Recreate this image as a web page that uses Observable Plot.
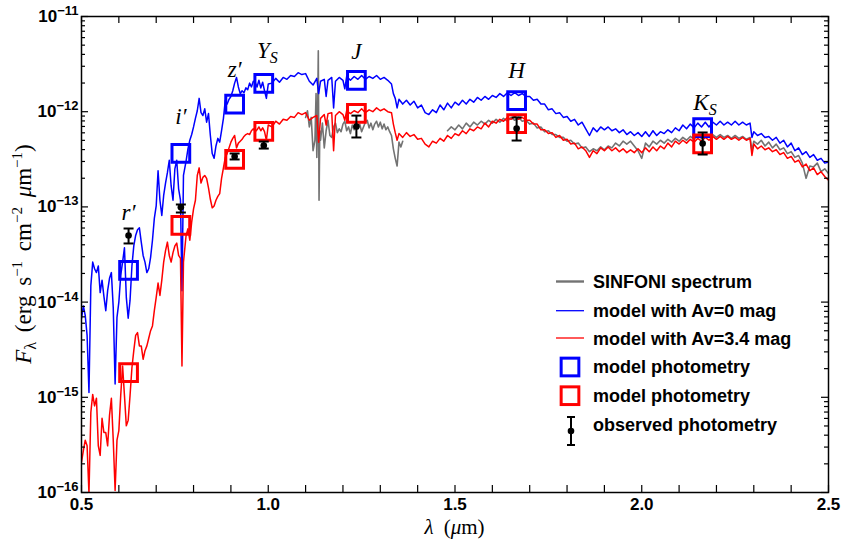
<!DOCTYPE html>
<html><head><meta charset="utf-8">
<script src="https://cdn.jsdelivr.net/npm/d3@7"></script>
<script src="https://cdn.jsdelivr.net/npm/@observablehq/plot@0.6"></script>
<style>body{margin:0;background:#fff}#chart{width:841px;height:541px}</style>
</head><body><div id="chart"></div>
<script>
// ---------- DATA ----------
// wavelength grid of the two model spectra (micron)
const waveModel = [
0.500,0.505,0.510,0.515,0.520,0.525,0.530,0.535,0.540,0.545,
0.550,0.555,0.560,0.565,0.570,0.575,0.580,0.585,0.590,0.595,
0.600,0.605,0.610,0.615,0.620,0.625,0.630,0.635,0.640,0.645,
0.650,0.655,0.660,0.665,0.670,0.675,0.680,0.685,0.690,0.695,
0.700,0.705,0.710,0.715,0.720,0.725,0.730,0.735,0.740,0.745,
0.750,0.755,0.760,0.765,0.769,0.773,
0.780,0.785,0.790,0.795,0.800,0.805,0.810,0.815,0.820,0.825,
0.830,0.835,0.840,0.845,0.850,0.855,0.860,0.865,0.870,0.875,
0.880,0.885,0.890,0.895,0.900,0.905,0.910,0.915,0.920,0.925,
0.930,0.935,0.940,0.945,0.950,0.955,0.960,0.965,0.970,0.975,
0.980,0.985,0.990,0.995,1.000,
1.01,1.02,1.03,1.04,1.05,1.06,1.07,1.08,1.09,1.10,
1.11,1.12,1.13,1.135,1.14,1.15,1.155,1.16,1.17,1.175,1.18,1.19,1.20,
1.205,1.21,1.22,1.23,1.24,1.25,1.26,1.27,1.28,1.29,1.30,
1.31,1.32,1.33,1.335,1.34,1.345,1.35,1.36,1.37,1.38,1.39,1.40,
1.41,1.42,1.43,1.44,1.45,1.46,1.47,1.48,1.49,1.50,
1.51,1.52,1.53,1.54,1.55,1.56,1.57,1.58,1.59,1.60,
1.61,1.62,1.63,1.64,1.65,1.66,1.67,1.68,1.69,1.70,
1.71,1.72,1.73,1.74,1.75,1.76,1.77,1.78,1.79,1.80,
1.81,1.82,1.83,1.84,1.85,1.86,1.87,1.88,1.89,1.90,
1.91,1.92,1.93,1.94,1.95,1.96,1.97,1.98,1.99,2.00,
2.01,2.02,2.03,2.04,2.05,2.06,2.07,2.08,2.09,2.10,
2.11,2.12,2.13,2.14,2.15,2.16,2.17,2.18,2.19,2.20,
2.21,2.22,2.23,2.24,2.25,2.26,2.27,2.28,2.29,
2.295,
2.30,2.31,2.32,2.33,2.34,2.35,2.36,2.37,2.38,2.39,2.40,
2.41,2.42,2.43,2.44,2.45,2.46,2.47,2.48,2.49,2.50];

// log10 F_lambda (erg s-1 cm-2 um-1), model with Av = 0 mag
const logFluxAv0 = [
-14.17,-14.04,-14.14,-14.35,-14.95,-13.83,-13.58,-13.65,-13.69,-13.62,
-13.90,-13.77,-13.94,-14.09,-13.88,-13.75,-13.69,-14.06,-14.86,-14.16,
-14.00,-13.72,-13.58,-13.43,-13.95,-14.17,-13.98,-13.62,-13.41,-13.30,
-13.24,-13.22,-13.37,-13.51,-13.58,-13.69,-13.65,-13.53,-13.35,-13.12,
-12.99,-12.62,-12.93,-13.09,-12.88,-12.75,-12.64,-12.51,-12.78,-12.93,
-12.60,-12.51,-12.81,-12.93,-13.88,-12.67,
-12.52,-12.39,-12.30,-12.24,-12.16,-12.07,-11.99,-11.86,-12.01,-12.04,
-11.97,-12.11,-12.02,-12.25,-12.44,-12.49,-12.36,-12.28,-12.32,-12.20,
-12.07,-11.88,-11.92,-11.87,-11.84,-11.78,-11.70,-11.64,-11.74,-11.81,
-11.78,-11.80,-11.75,-11.77,-11.70,-11.74,-11.68,-11.69,-11.74,-11.67,
-11.75,-11.69,-11.78,-11.86,-11.71,
-11.70,-11.65,-11.69,-11.64,-11.66,-11.62,-11.63,-11.59,-11.61,-11.60,
-11.68,-11.72,-11.65,-11.81,-11.68,-11.66,-11.84,-11.67,-11.64,-11.96,-11.68,-11.64,-11.67,
-11.76,-11.63,-11.67,-11.63,-11.66,-11.62,-11.66,-11.63,-11.65,-11.62,-11.66,
-11.64,-11.67,-11.71,-11.81,-11.86,-11.96,-11.87,-11.92,-11.88,-11.93,-11.89,-11.96,
-11.93,-12.01,-12.03,-11.98,-12.01,-11.93,-11.98,-11.91,-11.96,-11.90,
-11.93,-11.88,-11.92,-11.87,-11.90,-11.85,-11.88,-11.84,-11.87,-11.83,
-11.85,-11.81,-11.84,-11.80,-11.83,-11.80,-11.83,-11.81,-11.84,-11.84,
-11.88,-11.87,-11.92,-11.92,-11.98,-11.97,-12.02,-12.01,-12.06,-12.05,
-12.10,-12.08,-12.14,-12.11,-12.18,-12.25,-12.17,-12.21,-12.16,-12.19,
-12.16,-12.20,-12.18,-12.22,-12.19,-12.24,-12.21,-12.25,-12.22,-12.26,
-12.21,-12.26,-12.20,-12.25,-12.21,-12.23,-12.19,-12.22,-12.17,-12.20,
-12.14,-12.18,-12.13,-12.17,-12.12,-12.16,-12.11,-12.16,-12.11,-12.14,
-12.10,-12.14,-12.11,-12.14,-12.10,-12.14,-12.11,-12.14,-12.12,
-12.27,
-12.21,-12.25,-12.23,-12.27,-12.26,-12.30,-12.27,-12.33,-12.30,-12.37,-12.33,
-12.41,-12.38,-12.45,-12.42,-12.48,-12.45,-12.51,-12.49,-12.54,-12.53];

// log10 F_lambda, model with Av = 3.4 mag
const logFluxAv34 = [
-15.68,-15.56,-15.45,-15.51,-16.01,-15.16,-14.97,-15.09,-15.01,-15.51,
-15.61,-15.22,-15.37,-15.37,-15.51,-15.19,-15.01,-15.45,-15.98,-15.45,
-15.35,-14.98,-14.67,-14.98,-15.30,-15.24,-14.98,-14.69,-14.51,-14.35,
-14.32,-14.46,-14.46,-14.60,-14.51,-14.46,-14.38,-14.30,-14.25,-14.09,
-13.95,-13.80,-13.93,-13.77,-13.58,-13.46,-13.37,-13.51,-13.58,-13.48,
-13.41,-13.38,-13.51,-13.54,-14.67,-13.58,
-13.30,-13.23,-13.35,-13.16,-13.02,-12.93,-12.67,-12.59,-12.75,-12.69,
-12.67,-12.70,-12.80,-12.92,-13.01,-12.99,-12.93,-12.89,-12.86,-12.70,
-12.59,-12.48,-12.44,-12.38,-12.32,-12.28,-12.25,-12.38,-12.33,-12.31,
-12.29,-12.26,-12.24,-12.23,-12.24,-12.20,-12.18,-12.21,-12.19,-12.16,
-12.20,-12.17,-12.21,-12.30,-12.14,
-12.16,-12.10,-12.13,-12.08,-12.09,-12.05,-12.06,-12.01,-12.03,-12.01,
-12.09,-12.06,-12.04,-12.32,-12.07,-12.03,-12.14,-12.02,-12.01,-12.41,-12.04,-12.00,-12.03,
-12.09,-11.99,-12.02,-11.99,-12.01,-11.97,-12.01,-11.98,-12.00,-11.96,-11.99,
-11.97,-12.00,-12.01,-12.13,-12.22,-12.30,-12.23,-12.27,-12.22,-12.26,-12.24,-12.29,
-12.28,-12.34,-12.37,-12.31,-12.33,-12.28,-12.31,-12.25,-12.28,-12.23,
-12.25,-12.20,-12.23,-12.18,-12.20,-12.16,-12.18,-12.12,-12.16,-12.10,
-12.12,-12.08,-12.10,-12.06,-12.08,-12.05,-12.08,-12.06,-12.09,-12.09,
-12.13,-12.13,-12.19,-12.19,-12.23,-12.22,-12.27,-12.25,-12.30,-12.29,
-12.34,-12.33,-12.39,-12.37,-12.41,-12.48,-12.41,-12.44,-12.38,-12.41,
-12.37,-12.41,-12.38,-12.42,-12.39,-12.43,-12.40,-12.43,-12.39,-12.43,
-12.38,-12.42,-12.37,-12.41,-12.36,-12.39,-12.33,-12.37,-12.31,-12.34,
-12.30,-12.33,-12.29,-12.32,-12.28,-12.31,-12.27,-12.30,-12.26,-12.29,
-12.26,-12.29,-12.26,-12.29,-12.27,-12.30,-12.27,-12.30,-12.28,
-12.46,
-12.34,-12.39,-12.36,-12.40,-12.38,-12.42,-12.40,-12.45,-12.43,-12.49,-12.47,
-12.53,-12.51,-12.58,-12.55,-12.62,-12.59,-12.66,-12.63,-12.68,-12.72];

// SINFONI spectrum: wavelengths and log10 F_lambda (null = gap between J and H+K)
const waveSinfoni = [
1.100,1.105,1.110,1.115,1.120,1.125,1.128,1.130,1.132,1.134,1.136,1.138,1.140,
1.145,1.150,1.155,1.160,1.165,1.170,1.175,1.180,1.185,1.190,1.195,1.200,
1.205,1.210,1.215,1.220,1.225,1.230,1.235,1.240,1.245,1.250,
1.255,1.260,1.265,1.270,1.275,1.280,1.285,1.290,1.295,1.300,
1.305,1.310,1.315,1.320,1.325,1.330,1.335,1.340,1.345,1.350,1.355,1.360,
1.420,
1.48,1.49,1.50,
1.51,1.52,1.53,1.54,1.55,1.56,1.57,1.58,1.59,1.60,
1.61,1.62,1.63,1.64,1.65,1.66,1.67,1.68,1.69,1.70,
1.71,1.72,1.73,1.74,1.75,1.76,1.77,1.78,1.79,1.80,
1.81,1.82,1.83,1.84,1.85,1.86,1.87,1.88,1.89,1.90,
1.91,1.92,1.93,1.94,1.95,1.96,1.97,1.98,1.99,2.00,
2.01,2.02,2.03,2.04,2.05,2.06,2.07,2.08,2.09,2.10,
2.11,2.12,2.13,2.14,2.15,2.16,2.17,2.18,2.19,2.20,
2.21,2.22,2.23,2.24,2.25,2.26,2.27,2.28,2.29,
2.295,
2.30,2.31,2.32,2.33,2.34,2.35,2.36,2.37,2.38,2.39,2.40,
2.41,2.42,2.43,2.44,2.45,2.46,2.47,2.48,2.49,2.50];
const logFluxSinfoni = [
-12.06,-11.99,-12.16,-12.06,-12.41,-12.30,-11.81,-12.48,-12.12,-11.36,-12.93,-12.20,-12.30,
-12.12,-12.38,-12.20,-12.09,-12.25,-12.27,-12.16,-12.12,-12.22,-12.18,-12.21,-12.13,
-12.10,-12.20,-12.16,-12.23,-12.14,-12.19,-12.12,-12.18,-12.13,-12.21,
-12.16,-12.11,-12.09,-12.17,-12.12,-12.19,-12.13,-12.10,-12.16,-12.11,
-12.18,-12.13,-12.19,-12.16,-12.21,-12.25,-12.39,-12.49,-12.57,-12.32,-12.37,-12.31,
null,
-12.20,-12.16,-12.19,
-12.14,-12.18,-12.12,-12.16,-12.11,-12.14,-12.10,-12.13,-12.09,-12.12,
-12.08,-12.11,-12.07,-12.10,-12.06,-12.09,-12.06,-12.10,-12.09,-12.13,
-12.12,-12.17,-12.16,-12.21,-12.20,-12.24,-12.24,-12.27,-12.27,-12.31,
-12.30,-12.34,-12.33,-12.38,-12.37,-12.42,-12.39,-12.41,-12.37,-12.40,
-12.36,-12.38,-12.33,-12.36,-12.31,-12.34,-12.31,-12.36,-12.41,-12.49,
-12.33,-12.37,-12.31,-12.34,-12.30,-12.33,-12.29,-12.32,-12.28,-12.31,
-12.27,-12.30,-12.26,-12.29,-12.25,-12.28,-12.24,-12.27,-12.24,-12.27,
-12.24,-12.27,-12.25,-12.28,-12.25,-12.28,-12.26,-12.29,-12.27,
-12.41,
-12.31,-12.34,-12.30,-12.36,-12.32,-12.38,-12.34,-12.40,-12.38,-12.44,-12.42,
-12.48,-12.46,-12.54,-12.70,-12.57,-12.58,-12.54,-12.63,-12.60,-12.65];

// photometric bands
const bandNames = ["r′", "i′", "z′", "Y", "J", "H", "K"];
const bandSubs  = ["", "", "", "S", "", "", "S"];
const bandWave  = [0.626, 0.766, 0.910, 0.988, 1.236, 1.665, 2.163];
const photAv0   = [2.15e-14, 3.64e-13, 1.20e-12, 1.98e-12, 2.13e-12, 1.31e-12, 6.8e-13];
const photAv34  = [1.82e-15, 6.4e-14, 3.15e-13, 6.2e-13, 9.6e-13, 7.5e-13, 4.6e-13];
const obsFlux   = [5.0e-14, 9.9e-14, 3.38e-13, 4.42e-13, 7.0e-13, 6.67e-13, 4.63e-13];
const obsLow    = [4.13e-14, 8.73e-14, 3.15e-13, 4.10e-13, 5.36e-13, 4.98e-13, 3.55e-13];
const obsHigh   = [5.93e-14, 1.06e-13, 3.64e-13, 4.86e-13, 9.1e-13, 8.7e-13, 6.05e-13];
const labelFlux = [7.2e-14, 7.4e-13, 2.29e-12, 3.7e-12, 3.55e-12, 2.24e-12, 1.05e-12];

// axes ticks
const xLabelTicks = [0.5, 1.0, 1.5, 2.0, 2.5];
const xMinorTicks = [0.5,0.6,0.7,0.8,0.9,1.0,1.1,1.2,1.3,1.4,1.5,1.6,1.7,1.8,1.9,2.0,2.1,2.2,2.3,2.4,2.5];
const yMajorTicks = [1e-16, 1e-15, 1e-14, 1e-13, 1e-12, 1e-11];
const yMinorMult  = [2, 3, 4, 5, 6, 7, 8, 9];

const legendItems = [
  {kind: "line", color: "#737373", width: 2.4, text: "SINFONI spectrum"},
  {kind: "line", color: "#0000ff", width: 1.3, text: "model with Av=0 mag"},
  {kind: "line", color: "#ff0000", width: 1.3, text: "model with Av=3.4 mag"},
  {kind: "square", color: "#0000ff", text: "model photometry"},
  {kind: "square", color: "#ff0000", text: "model photometry"},
  {kind: "errorbar", color: "#000000", text: "observed photometry"}
];

// ---------- BUILD ----------
if (waveModel.length !== logFluxAv0.length || waveModel.length !== logFluxAv34.length || waveSinfoni.length !== logFluxSinfoni.length)
  throw new Error(`length mismatch ${waveModel.length} ${logFluxAv0.length} ${logFluxAv34.length} ${waveSinfoni.length} ${logFluxSinfoni.length}`);

const toFlux = v => v == null ? NaN : Math.pow(10, v);
const av0 = waveModel.map((w, i) => ({w, f: toFlux(logFluxAv0[i])}));
const av34 = waveModel.map((w, i) => ({w, f: toFlux(logFluxAv34[i])}));
const sinfoni = waveSinfoni.map((w, i) => ({w, f: toFlux(logFluxSinfoni[i])}));
const phot = bandWave.map((w, i) => ({w, name: bandNames[i], sub: bandSubs[i], m0: photAv0[i], m34: photAv34[i],
  obs: obsFlux[i], lo: obsLow[i], hi: obsHigh[i], lab: labelFlux[i]}));
const yMinorTicks = yMajorTicks.slice(0, -1).flatMap(d => yMinorMult.map(k => k * d));

const W = 841, H = 541, mL = 81, mR = 13, mT = 16, mB = 49;
const plotW = W - mL - mR, plotH = H - mT - mB;
const SANS = "'Liberation Sans', Arial, Helvetica, sans-serif";
const SERIF = "'Liberation Serif', 'Times New Roman', serif";
const capSymbol = {draw(ctx, size) { const w = Math.sqrt(size / Math.PI); ctx.moveTo(-w, 0); ctx.lineTo(w, 0); }};
const tickStyle = {stroke: "black", strokeWidth: 1.2};
const labelStyle = {fontFamily: SERIF, fontStyle: "italic", fontWeight: "normal", fill: "black"};

const svg = Plot.plot({
  width: W, height: H, marginLeft: mL, marginRight: mR, marginTop: mT, marginBottom: mB,
  x: {domain: [0.5, 2.5], axis: null},
  y: {type: "log", domain: [1e-16, 1e-11], axis: null},
  style: {fontFamily: SANS, fontWeight: "bold", background: "#fff", color: "black"},
  marks: [
    Plot.line(sinfoni, {x: "w", y: "f", stroke: "#737373", strokeWidth: 1.6, clip: true}),
    Plot.line(av0, {x: "w", y: "f", stroke: "#0000ff", strokeWidth: 1.5, clip: true}),
    Plot.line(av34, {x: "w", y: "f", stroke: "#ff0000", strokeWidth: 1.5, clip: true}),
    Plot.dot(phot, {x: "w", y: "m0", symbol: "square", r: 10, stroke: "#0000ff", strokeWidth: 3, fill: "none"}),
    Plot.dot(phot, {x: "w", y: "m34", symbol: "square", r: 10, stroke: "#ff0000", strokeWidth: 3, fill: "none"}),
    Plot.ruleX(phot, {x: "w", y1: "lo", y2: "hi", stroke: "black", strokeWidth: 2}),
    Plot.dot(phot, {x: "w", y: "lo", symbol: capSymbol, r: 5, stroke: "black", strokeWidth: 2}),
    Plot.dot(phot, {x: "w", y: "hi", symbol: capSymbol, r: 5, stroke: "black", strokeWidth: 2}),
    Plot.dot(phot, {x: "w", y: "obs", r: 3.3, fill: "black"}),
    Plot.text(phot.filter(d => !d.sub), {x: "w", y: "lab", text: "name", lineAnchor: "bottom", fontSize: 23, ...labelStyle}),
    Plot.text(phot.filter(d => d.sub), {x: "w", y: "lab", text: "name", lineAnchor: "bottom", textAnchor: "end", dx: 6, fontSize: 23, ...labelStyle}),
    Plot.text(phot.filter(d => d.sub), {x: "w", y: "lab", text: "sub", lineAnchor: "bottom", textAnchor: "start", dx: 6, dy: 5, fontSize: 16, ...labelStyle}),
    Plot.frame({stroke: "black", strokeWidth: 1.5}),
    Plot.tickX(xMinorTicks, {x: d => d, insetTop: plotH - 7, ...tickStyle}),
    Plot.tickX(xMinorTicks, {x: d => d, insetBottom: plotH - 7, ...tickStyle}),
    Plot.tickY(yMajorTicks, {y: d => d, insetRight: plotW - 7, ...tickStyle}),
    Plot.tickY(yMajorTicks, {y: d => d, insetLeft: plotW - 7, ...tickStyle}),
    Plot.tickY(yMinorTicks, {y: d => d, insetRight: plotW - 4, ...tickStyle}),
    Plot.tickY(yMinorTicks, {y: d => d, insetLeft: plotW - 4, ...tickStyle}),
    Plot.axisX({ticks: xLabelTicks, tickFormat: d => d.toFixed(1), tickSize: 0, tickPadding: 5, fontSize: 17, label: null}),
    Plot.axisY({ticks: yMajorTicks, tickFormat: d => String(Math.round(Math.log10(d))), tickSize: 0, tickPadding: 3, fontSize: 17, label: null})
  ]
});
document.getElementById("chart").appendChild(svg);

// y tick labels as 10^n
const s = d3.select(svg);
s.selectAll('g[aria-label="y-axis tick label"] text').each(function () {
  const t = d3.select(this);
  const e = t.text();
  t.text("");
  t.append("tspan").text("10");
  t.append("tspan").attr("font-size", 13).attr("dy", -7).text(e.replace("-", "−"));
});

// axis titles
const xl = s.append("text").attr("x", mL + plotW / 2).attr("y", 534).attr("text-anchor", "middle")
  .attr("font-family", SERIF).attr("font-weight", "normal").attr("font-size", 21)
  .attr("word-spacing", 5);
xl.append("tspan").attr("font-style", "italic").text("λ");
xl.append("tspan").text(" (");
xl.append("tspan").attr("font-style", "italic").text("μ");
xl.append("tspan").text("m)");

const yl = s.append("text").attr("transform", `translate(31,${mT + plotH / 2}) rotate(-90)`).attr("text-anchor", "middle")
  .attr("font-family", SERIF).attr("font-weight", "normal").attr("font-size", 23)
  .attr("word-spacing", 4);
yl.append("tspan").attr("font-style", "italic").text("F");
yl.append("tspan").attr("font-size", 16).attr("dy", 5).text("λ");
yl.append("tspan").attr("dy", -5).text(" (erg s");
yl.append("tspan").attr("font-size", 15).attr("dy", -9).text("−1");
yl.append("tspan").attr("dy", 9).text(" cm");
yl.append("tspan").attr("font-size", 15).attr("dy", -9).text("−2");
yl.append("tspan").attr("dy", 9).text(" ");
yl.append("tspan").attr("font-style", "italic").text("μ");
yl.append("tspan").text("m");
yl.append("tspan").attr("font-size", 15).attr("dy", -9).text("−1");
yl.append("tspan").attr("dy", 9).text(")");

// legend (inside the frame, lower right)
const lg = s.append("g").attr("font-family", SANS).attr("font-weight", "bold").attr("font-size", 18).attr("text-anchor", "start");
const rowY = [281.5, 310.7, 338, 367, 395.7, 431];
const textY = [288, 317, 345, 373, 402, 431];
legendItems.forEach((it, i) => {
  const y = rowY[i];
  if (it.kind === "line") {
    lg.append("line").attr("x1", 556).attr("x2", 584).attr("y1", y).attr("y2", y)
      .attr("stroke", it.color).attr("stroke-width", it.width);
  } else if (it.kind === "square") {
    lg.append("rect").attr("x", 570 - 8.85).attr("y", y - 8.85).attr("width", 17.7).attr("height", 17.7)
      .attr("fill", "none").attr("stroke", it.color).attr("stroke-width", 3);
  } else {
    lg.append("line").attr("x1", 571).attr("x2", 571).attr("y1", y - 14).attr("y2", y + 14).attr("stroke", "black").attr("stroke-width", 2);
    lg.append("line").attr("x1", 567).attr("x2", 575).attr("y1", y - 14).attr("y2", y - 14).attr("stroke", "black").attr("stroke-width", 2);
    lg.append("line").attr("x1", 567).attr("x2", 575).attr("y1", y + 14).attr("y2", y + 14).attr("stroke", "black").attr("stroke-width", 2);
    lg.append("circle").attr("cx", 571).attr("cy", y).attr("r", 3.3).attr("fill", "black");
  }
  lg.append("text").attr("x", 593).attr("y", textY[i]).attr("fill", "black").attr("text-anchor", "start").text(it.text);
});
</script></body></html>
